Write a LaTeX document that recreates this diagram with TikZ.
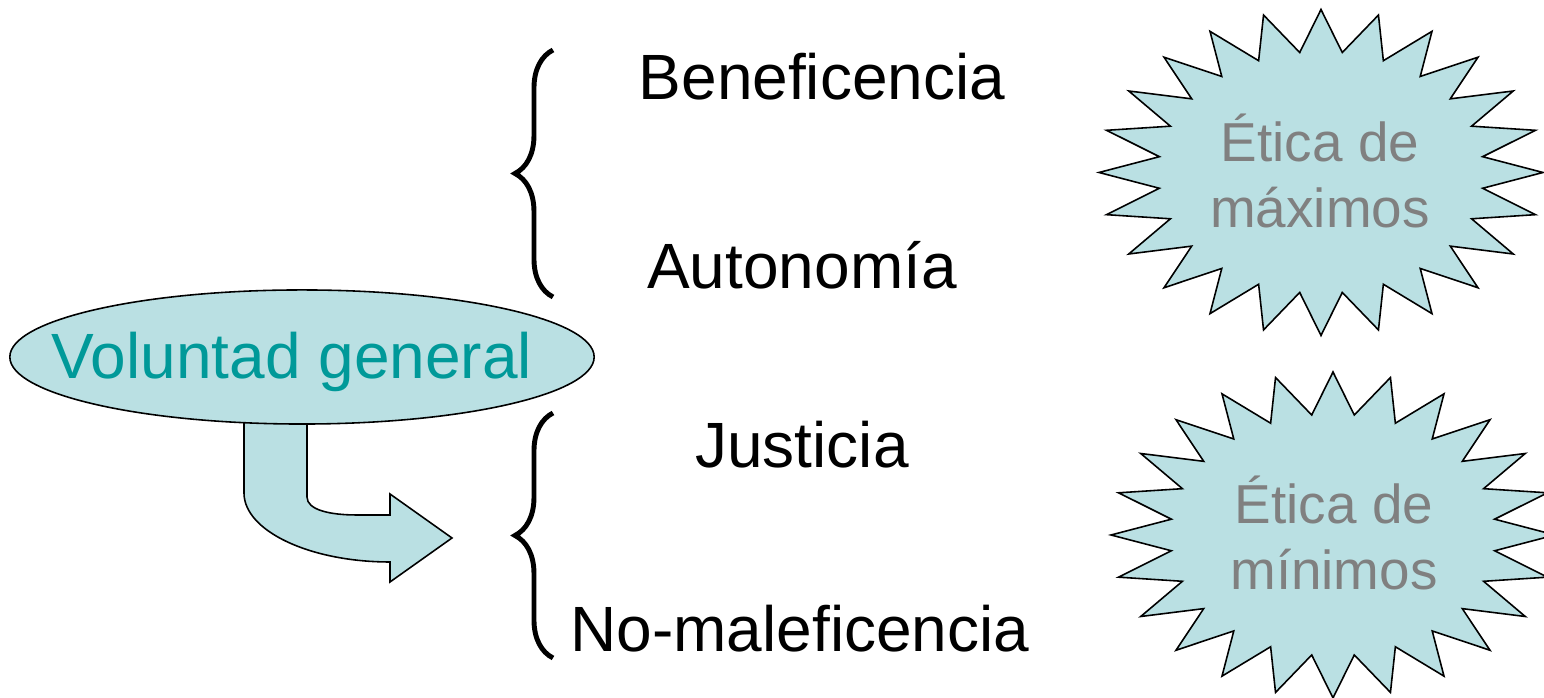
\documentclass[tikz,border=0pt]{standalone}
\usepackage{fontspec}
\setmainfont{Liberation Sans}
\usetikzlibrary{decorations.pathreplacing,calc}

\definecolor{tealfill}{RGB}{186,224,227}
\definecolor{tealtext}{RGB}{0,153,153}
\definecolor{graytext}{RGB}{128,128,128}

\begin{document}
\begin{tikzpicture}[x=0.01cm,y=-0.01cm,
  oval/.style={draw,fill=tealfill,line width=0.45pt},
  oval text/.style={anchor=base,text=tealtext,font=\fontsize{18.2}{21.8}\selectfont},
  principle/.style={anchor=base,font=\fontsize{18.2}{21.8}\selectfont},
  group brace/.style={decorate,decoration={brace,amplitude=0.38cm},line width=1.4pt},
  burst/.style={draw,fill=tealfill,line width=0.45pt,line join=miter},
  burst text/.style={align=center,inner sep=0pt,text=graytext,font=\fontsize{15.6}{18.8}\selectfont},
  bend arrow/.style={draw,fill=tealfill,line width=0.45pt}]

  \useasboundingbox (0,0) rectangle (1544,698);

  % bent arrow, drawn first so the oval covers its top
  \path[bend arrow] (244,400) -- (244,493) .. controls (244,531) and (310,562) .. (390,562)
    -- (390,582) -- (452,538) -- (390,494) -- (390,515) -- (357,515)
    .. controls (330,515) and (307,510) .. (307,497) -- (307,400) -- cycle;

  \path[oval] (302,357) ellipse [x radius=2.92cm, y radius=0.67cm];
  \node[oval text] (vg) at (292,379) {Voluntad general};

  % principles
  \node[principle] (benef) at (822,100) {Beneficencia};
  \node[principle] (auto) at (802,289) {Autonomía};
  \node[principle] (just) at (802,468) {Justicia};
  \node[principle] (nomal) at (800,652) {No-maleficencia};

  \draw[group brace] (553,297) -- (553,50);
  \draw[group brace] (553,658) -- (553,413);

  % starbursts
  \coordinate (maxc) at (1321,172.5);
  \coordinate (minc) at (1333,535);
  \foreach \c in {maxc,minc}{
    \path[burst] ($(\c)+(0:222 and 163)$)
      \foreach \a in {0,15,...,345}{
        -- ($(\c)+(\a:222 and 163)$) -- ($(\c)+(\a+7.5:163 and 121)$)
      } -- cycle;
  }
  \node[burst text] (maximos) at (1320,171) {Ética de\\máximos};
  \node[burst text] (minimos) at (1334,533) {Ética de\\mínimos};

\end{tikzpicture}
\end{document}
